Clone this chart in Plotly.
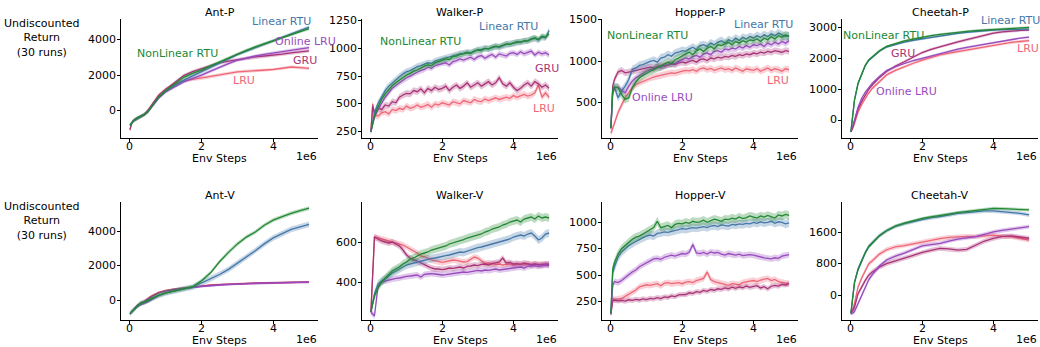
import plotly.graph_objects as go

# ---------------- data (x in units of 1e6 env steps) ----------------
SERIES = ["LRU", "GRU", "Online LRU", "Linear RTU", "NonLinear RTU"]
TITLES = ["Ant-P", "Walker-P", "Hopper-P", "Cheetah-P", "Ant-V", "Walker-V", "Hopper-V", "Cheetah-V"]
X_TICKS = [0, 2, 4]

# coarse grid for smooth panels
XS = [0, 0.05, 0.1, 0.2, 0.3, 0.4, 0.5, 0.6, 0.8, 1.0, 1.25, 1.5, 1.75, 2.0, 2.25, 2.5,
      2.75, 3.0, 3.25, 3.5, 3.75, 4.0, 4.25, 4.5, 4.75, 5.0]
# fine grid for noisy panels
XN = [0, 0.05, 0.1, 0.2, 0.3, 0.4, 0.5, 0.6, 0.7, 0.8, 0.9, 1.0,
      1.1, 1.2, 1.3, 1.4, 1.5, 1.6, 1.7, 1.8, 1.9, 2.0,
      2.1, 2.2, 2.3, 2.4, 2.5, 2.6, 2.7, 2.8, 2.9, 3.0,
      3.1, 3.2, 3.3, 3.4, 3.5, 3.6, 3.7, 3.8, 3.9, 4.0,
      4.1, 4.2, 4.3, 4.4, 4.5, 4.6, 4.7, 4.8, 4.9, 5.0]

# Ant-P
ANTP_LRU = [-1100, -680, -540, -410, -320, -200, 20, 330, 880, 1220, 1480, 1680, 1760, 1820, 1910, 2000, 2100, 2190, 2220, 2250, 2290, 2320, 2390, 2460, 2430, 2380]
ANTP_GRU = [-1050, -700, -560, -410, -320, -200, 0, 300, 850, 1200, 1600, 1980, 2200, 2370, 2540, 2690, 2790, 2880, 2960, 3030, 3080, 3120, 3180, 3250, 3310, 3370]
ANTP_ONLINE = [-830, -720, -580, -440, -340, -240, -80, 190, 700, 1060, 1350, 1620, 1820, 2000, 2230, 2460, 2650, 2840, 2970, 3080, 3170, 3250, 3320, 3400, 3480, 3550]
ANTP_LIN = [-820, -700, -560, -420, -330, -220, -50, 230, 760, 1120, 1430, 1720, 1960, 2190, 2420, 2660, 2910, 3160, 3370, 3570, 3750, 3930, 4130, 4330, 4520, 4710]
ANTP_NONLIN = [-820, -700, -560, -420, -330, -220, -50, 230, 760, 1120, 1480, 1880, 2100, 2280, 2520, 2750, 2980, 3210, 3400, 3590, 3760, 3930, 4120, 4300, 4460, 4620]
ANTP_BAND = [90, 90, 90, 90, 90]

# Walker-P
WALKP_LRU = [250, 500,
             400, 390, 420, 430, 410, 450, 440, 460, 450, 480,
             460, 470, 490, 470, 480, 495, 470, 500, 490, 510,
             500, 490, 520, 510, 500, 530, 520, 510, 540, 525,
             520, 545, 530, 540, 555, 540, 550, 560, 550, 575,
             560, 570, 585, 570, 580, 600, 670, 560, 600, 560]
WALKP_GRU = [250, 480,
             420, 460, 450, 490, 480, 520, 510, 560, 580, 595,
             590, 620, 610, 635, 600, 640, 620, 650, 630, 640,
             660, 620, 650, 670, 640, 660, 690, 650, 670, 690,
             660, 680, 700, 670, 690, 735, 680, 660, 690, 650,
             620, 640, 670, 690, 660, 700, 680, 650, 670, 640]
WALKP_ONLINE = [250, 320,
                380, 450, 510, 560, 600, 640, 665, 690, 715, 735,
                750, 770, 785, 800, 810, 830, 820, 845, 855, 865,
                870, 850, 880, 890, 905, 895, 910, 920, 900, 925,
                935, 910, 930, 945, 920, 950, 940, 930, 955, 960,
                945, 970, 950, 960, 975, 940, 965, 950, 960, 940]
WALKP_LIN = [250, 350,
             420, 505, 570, 620, 660, 690, 720, 745, 770, 790,
             800, 820, 835, 845, 860, 870, 865, 885, 895, 905,
             910, 920, 930, 940, 950, 955, 965, 960, 975, 985,
             990, 1000, 995, 1005, 1015, 1010, 1025, 1035, 1040, 1045,
             1050, 1060, 1065, 1070, 1080, 1090, 1075, 1100, 1095, 1160]
WALKP_NONLIN = [250, 330,
                390, 470, 540, 590, 630, 665, 690, 715, 740, 760,
                775, 795, 805, 825, 840, 850, 845, 870, 880, 890,
                905, 900, 925, 930, 945, 950, 960, 955, 975, 985,
                980, 1000, 995, 1010, 1020, 1015, 1030, 1040, 1035, 1050,
                1060, 1055, 1070, 1065, 1085, 1095, 1080, 1110, 1100, 1130]
WALKP_BAND = [30, 30, 25, 30, 25]

# Hopper-P
HOPP_LRU = [130, 180,
            250, 380, 470, 560, 620, 680, 720, 740, 760, 780,
            800, 810, 820, 830, 840, 850, 860, 855, 870, 880,
            890, 885, 900, 880, 910, 920, 900, 915, 890, 905,
            920, 900, 910, 890, 920, 900, 880, 910, 900, 890,
            910, 880, 900, 920, 890, 910, 900, 880, 910, 900]
HOPP_GRU = [190, 700,
            780, 870, 890, 860, 870, 880, 890, 900, 910, 920,
            930, 920, 940, 950, 940, 960, 970, 960, 980, 990,
            980, 1000, 1010, 990, 1020, 1030, 1010, 1040, 1030, 1050,
            1040, 1060, 1050, 1070, 1060, 1080, 1070, 1090, 1080, 1100,
            1090, 1110, 1100, 1120, 1110, 1130, 1120, 1110, 1130, 1120]
HOPP_ONLINE = [190, 600,
               680, 690, 650, 620, 700, 760, 800, 830, 860, 880,
               900, 910, 930, 920, 950, 960, 980, 970, 1000, 1020,
               1040, 1030, 1060, 1070, 1050, 1090, 1100, 1080, 1120, 1130,
               1110, 1150, 1140, 1160, 1150, 1180, 1160, 1190, 1170, 1200,
               1190, 1210, 1180, 1220, 1200, 1230, 1210, 1240, 1220, 1250]
HOPP_LIN = [190, 650,
            690, 560, 640, 700, 780, 900, 920, 950, 960, 980,
            1000, 1010, 990, 1040, 1050, 1080, 1060, 1100, 1110, 1130,
            1120, 1150, 1170, 1140, 1190, 1200, 1180, 1220, 1200, 1230,
            1250, 1220, 1260, 1240, 1280, 1250, 1290, 1270, 1300, 1280,
            1310, 1290, 1320, 1300, 1330, 1310, 1340, 1320, 1300, 1310]
HOPP_NONLIN = [190, 640,
               690, 680, 600, 540, 560, 680, 750, 800, 830, 860,
               880, 900, 920, 940, 960, 990, 970, 1020, 1040, 1070,
               1090, 1110, 1080, 1130, 1150, 1120, 1160, 1180, 1150, 1200,
               1190, 1210, 1230, 1200, 1240, 1220, 1250, 1230, 1260, 1250,
               1270, 1240, 1280, 1260, 1300, 1270, 1310, 1290, 1320, 1300]
HOPP_BAND = [40, 40, 40, 50, 50]

# Cheetah-P
CHEP_LRU = [-380, -280, -120, 250, 500, 700, 880, 1030, 1260, 1470, 1620, 1740, 1850, 1950, 2040, 2120, 2180, 2230, 2290, 2340, 2390, 2440, 2490, 2530, 2560, 2590]
CHEP_GRU = [-380, -250, -50, 350, 600, 800, 1000, 1140, 1380, 1580, 1760, 1900, 2060, 2200, 2300, 2390, 2470, 2550, 2620, 2690, 2760, 2830, 2870, 2900, 2920, 2935]
CHEP_ONLINE = [-380, -220, 0, 420, 700, 900, 1070, 1200, 1420, 1610, 1740, 1850, 1940, 2010, 2090, 2170, 2240, 2310, 2370, 2420, 2480, 2530, 2580, 2630, 2670, 2700]
CHEP_LIN = [-380, 250, 650, 1180, 1480, 1760, 1940, 2030, 2240, 2380, 2470, 2540, 2600, 2650, 2700, 2750, 2790, 2825, 2860, 2890, 2915, 2935, 2945, 2955, 2960, 2960]
CHEP_NONLIN = [-380, 250, 650, 1200, 1500, 1780, 1960, 2050, 2260, 2400, 2500, 2580, 2640, 2700, 2750, 2790, 2830, 2860, 2890, 2915, 2935, 2960, 2975, 2990, 3005, 3020]
CHEP_BAND = [50, 45, 35, 40, 40]

# Ant-V
ANTV_LRU = [-800, -680, -550, -320, -170, -80, 100, 250, 450, 560, 650, 710, 770, 840, 880, 910, 940, 960, 980, 995, 1005, 1015, 1025, 1035, 1040, 1060]
ANTV_GRU = [-800, -680, -560, -330, -180, -100, 50, 200, 420, 540, 630, 700, 760, 830, 870, 900, 930, 960, 975, 990, 1000, 1010, 1020, 1030, 1040, 1050]
ANTV_ONLINE = [-800, -700, -600, -400, -280, -220, -120, 20, 250, 420, 560, 660, 740, 800, 850, 880, 910, 940, 960, 980, 995, 1010, 1020, 1030, 1040, 1050]
ANTV_LIN = [-800, -700, -580, -350, -200, -130, -50, 80, 280, 420, 560, 660, 760, 1000, 1250, 1500, 1800, 2150, 2500, 2900, 3300, 3650, 3900, 4150, 4300, 4450]
ANTV_NONLIN = [-800, -700, -580, -350, -200, -130, -50, 80, 280, 420, 560, 660, 780, 1130, 1600, 2250, 2800, 3300, 3700, 4000, 4400, 4700, 4900, 5100, 5250, 5400]
ANTV_BAND = [60, 60, 60, 170, 120]

# Walker-V
WALKV_LRU = [250, 450,
             625, 620, 615, 610, 605, 600, 595, 590, 585, 575,
             565, 555, 545, 530, 525, 520, 510, 505, 500, 498,
             502, 505, 510, 508, 505, 500, 502, 515, 525, 520,
             505, 492, 495, 490, 488, 490, 485, 488, 490, 485,
             488, 490, 485, 492, 488, 490, 485, 490, 488, 490]
WALKV_GRU = [250, 450,
             625, 615, 605, 600, 595, 600, 590, 580, 560, 535,
             520, 510, 505, 495, 485, 478, 470, 465, 465, 462,
             465, 470, 468, 472, 475, 470, 478, 480, 485, 482,
             488, 490, 485, 492, 495, 500, 520, 495, 498, 490,
             492, 488, 495, 490, 485, 490, 488, 485, 490, 488]
WALKV_ONLINE = [250, 240,
                230, 380, 400, 405, 410, 415, 418, 420, 425, 428,
                430, 432, 435, 425, 438, 440, 442, 440, 438, 435,
                437, 440, 442, 445, 448, 450, 448, 452, 455, 458,
                455, 460, 458, 462, 465, 460, 463, 465, 468, 470,
                472, 475, 470, 478, 480, 482, 478, 480, 485, 482]
WALKV_LIN = [250, 290,
             340, 390, 405, 415, 430, 445, 455, 465, 475, 485,
             490, 495, 500, 505, 510, 515, 518, 520, 525, 528,
             532, 535, 540, 545, 550, 548, 555, 560, 565, 572,
             575, 580, 585, 590, 595, 600, 605, 610, 615, 625,
             630, 635, 630, 640, 645, 630, 610, 620, 640, 645]
WALKV_NONLIN = [250, 300,
                330, 370, 400, 420, 440, 455, 465, 475, 490, 500,
                515, 520, 530, 540, 545, 550, 560, 565, 570, 575,
                580, 590, 595, 600, 608, 612, 620, 625, 630, 635,
                640, 650, 655, 665, 670, 675, 685, 690, 700, 705,
                710, 700, 715, 720, 725, 715, 730, 720, 725, 720]
WALKV_BAND = [15, 15, 15, 20, 20]

# Hopper-V
HOPV_LRU = [140, 280,
            270, 275, 280, 300, 320, 340, 360, 390, 400, 410,
            405, 415, 420, 400, 425, 430, 420, 425, 430, 420,
            435, 440, 430, 450, 460, 470, 530, 460, 440, 430,
            420, 410, 405, 420, 415, 410, 430, 440, 445, 450,
            440, 455, 460, 470, 450, 460, 440, 430, 425, 420]
HOPV_GRU = [130, 260,
            265, 258, 262, 255, 268, 262, 272, 266, 276, 270,
            282, 276, 288, 280, 295, 290, 305, 298, 315, 320,
            318, 334, 328, 345, 338, 356, 348, 365, 358, 372,
            366, 380, 372, 388, 376, 390, 382, 398, 386, 394,
            402, 380, 392, 372, 396, 404, 398, 414, 408, 420]
HOPV_ONLINE = [130, 400,
               440, 430, 450, 480, 505, 530, 550, 580, 600, 620,
               640, 655, 660, 650, 670, 680, 690, 680, 695, 705,
               700, 720, 790, 710, 705, 715, 700, 720, 710, 715,
               700, 690, 705, 695, 690, 700, 685, 690, 695, 690,
               680, 670, 665, 660, 655, 665, 660, 680, 690, 695]
HOPV_LIN = [140, 520,
            580, 670, 720, 750, 780, 800, 820, 840, 855, 870,
            880, 870, 895, 900, 910, 905, 915, 920, 930, 940,
            935, 945, 950, 945, 955, 960, 950, 965, 970, 960,
            975, 970, 965, 980, 975, 985, 980, 990, 985, 1000,
            990, 1005, 995, 1000, 1010, 990, 1005, 1000, 985, 995]
HOPV_NONLIN = [140, 560,
               620, 700, 750, 780, 810, 840, 860, 870, 890, 910,
               930, 950, 1010, 950, 960, 970, 950, 980, 990, 985,
               1000, 990, 1010, 1000, 1005, 1020, 1000, 1015, 1030, 1020,
               1010, 1030, 1025, 1040, 1030, 1050, 1035, 1045, 1060, 1050,
               1040, 1060, 1050, 1065, 1055, 1040, 1070, 1060, 1075, 1065]
HOPV_BAND = [30, 25, 30, 40, 40]

# Cheetah-V
CHEV_LRU = [-446, -350, -200, 220, 440, 640, 800, 880, 1050, 1160, 1230, 1265, 1310, 1360, 1400, 1440, 1470, 1490, 1500, 1490, 1510, 1530, 1500, 1490, 1450, 1400]
CHEV_GRU = [-446, -380, -300, 50, 230, 380, 520, 600, 720, 810, 880, 945, 1020, 1095, 1150, 1195, 1180, 1150, 1170, 1280, 1380, 1450, 1500, 1510, 1480, 1450]
CHEV_ONLINE = [-446, -440, -400, -200, 0, 190, 400, 530, 750, 900, 1000, 1075, 1170, 1260, 1290, 1320, 1380, 1430, 1460, 1490, 1550, 1610, 1650, 1685, 1715, 1745]
CHEV_LIN = [-446, -80, 340, 680, 900, 1090, 1250, 1340, 1520, 1640, 1750, 1820, 1870, 1930, 1970, 2000, 2040, 2080, 2100, 2120, 2140, 2140, 2120, 2105, 2080, 2040]
CHEV_NONLIN = [-446, -100, 320, 650, 880, 1070, 1230, 1320, 1510, 1640, 1760, 1830, 1890, 1950, 1990, 2020, 2060, 2100, 2125, 2150, 2180, 2205, 2200, 2190, 2180, 2165]
CHEV_BAND = [60, 60, 50, 50, 40]

Y_TICKS = [[0, 2000, 4000], [250, 500, 750, 1000, 1250], [500, 1000, 1500], [0, 1000, 2000, 3000],
           [0, 2000, 4000], [400, 600], [250, 500, 750, 1000], [0, 800, 1600]]

# ---------------- assemble ----------------
panels = [
    (XS, [ANTP_LRU, ANTP_GRU, ANTP_ONLINE, ANTP_LIN, ANTP_NONLIN], ANTP_BAND),
    (XN, [WALKP_LRU, WALKP_GRU, WALKP_ONLINE, WALKP_LIN, WALKP_NONLIN], WALKP_BAND),
    (XN, [HOPP_LRU, HOPP_GRU, HOPP_ONLINE, HOPP_LIN, HOPP_NONLIN], HOPP_BAND),
    (XS, [CHEP_LRU, CHEP_GRU, CHEP_ONLINE, CHEP_LIN, CHEP_NONLIN], CHEP_BAND),
    (XS, [ANTV_LRU, ANTV_GRU, ANTV_ONLINE, ANTV_LIN, ANTV_NONLIN], ANTV_BAND),
    (XN, [WALKV_LRU, WALKV_GRU, WALKV_ONLINE, WALKV_LIN, WALKV_NONLIN], WALKV_BAND),
    (XN, [HOPV_LRU, HOPV_GRU, HOPV_ONLINE, HOPV_LIN, HOPV_NONLIN], HOPV_BAND),
    (XS, [CHEV_LRU, CHEV_GRU, CHEV_ONLINE, CHEV_LIN, CHEV_NONLIN], CHEV_BAND),
]

COLORS = {"LRU": (238, 102, 119), "GRU": (170, 51, 119), "Online LRU": (153, 75, 190),
          "Linear RTU": (68, 119, 170), "NonLinear RTU": (34, 136, 51)}

W, H = 1040, 347
COL_PX = [(121, 318), (362, 558), (602, 798), (842, 1038)]
ROW_PX = [(19, 138), (202, 320)]
Y_RANGES = [[-1537, 5163], [193, 1264], [72, 1512], [-587, 3293],
            [-1176, 5763], [210, 800], [77, 1192], [-615, 2366]]

FONT = "DejaVu Sans"
fig = go.Figure()
layout = dict(width=W, height=H, margin=dict(l=0, r=0, t=0, b=0),
              paper_bgcolor="white", plot_bgcolor="white", showlegend=False,
              font=dict(family=FONT, size=11, color="black"))
annotations = []


def ann(text, x, y, xref="paper", yref="paper", xanchor="center", color="black"):
    annotations.append(dict(text=text, x=x, y=y, xref=xref, yref=yref, showarrow=False,
                            xanchor=xanchor, yanchor="middle", borderpad=0,
                            font=dict(family=FONT, size=11, color=color)))


for i, (xv, ys, bands) in enumerate(panels):
    r, c = divmod(i, 4)
    n = i + 1
    xa, ya = ("x" if n == 1 else f"x{n}"), ("y" if n == 1 else f"y{n}")
    for name, yv, hw in zip(SERIES, ys, bands):
        rgb = COLORS[name]
        up = [v + hw for v in yv]
        lo = [v - hw for v in yv]
        fig.add_trace(go.Scatter(x=list(xv) + list(xv)[::-1], y=up + lo[::-1], fill="toself",
                                 fillcolor=f"rgba({rgb[0]},{rgb[1]},{rgb[2]},0.3)",
                                 line=dict(width=0), hoverinfo="skip", xaxis=xa, yaxis=ya))
        fig.add_trace(go.Scatter(x=xv, y=yv, mode="lines",
                                 line=dict(color=f"rgb({rgb[0]},{rgb[1]},{rgb[2]})", width=1.3),
                                 name=name, xaxis=xa, yaxis=ya))
    x0, x1 = COL_PX[c]
    y0, y1 = ROW_PX[r]
    ax = dict(showline=True, linecolor="black", linewidth=1, ticks="outside", ticklen=3,
              tickwidth=1, tickcolor="black", showgrid=False, zeroline=False,
              showticklabels=False)
    layout["xaxis" if n == 1 else f"xaxis{n}"] = dict(
        ax, domain=[x0 / W, x1 / W], range=[-0.25, 5.25], tickvals=X_TICKS, anchor=ya)
    layout["yaxis" if n == 1 else f"yaxis{n}"] = dict(
        ax, domain=[1 - y1 / H, 1 - y0 / H], range=Y_RANGES[i], tickvals=Y_TICKS[i], anchor=xa)
    # tick labels
    for t in X_TICKS:
        ann(str(t), t, 1 - (y1 + 8) / H, xref=xa)
    for t in Y_TICKS[i]:
        ann(str(t), (x0 - 4) / W, t, yref=ya, xanchor="right")
    # title, x label and offset text
    ann(TITLES[i], (x0 + x1) / 2 / W, 1 - (y0 - 7) / H)
    ann("Env Steps", (x0 + x1) / 2 / W, 1 - (y1 + 20) / H)
    ann("1e6", x1 / W, 1 - (y1 + 19) / H, xanchor="right")

for r in range(2):
    ann("Undiscounted<br>Return<br>(30 runs)", 42 / W, 1 - (ROW_PX[r][0] + 19) / H)

# in-plot series labels (data coordinates)
LABELS = [
    (1, "Linear RTU", 4.22, 4994), (1, "NonLinear RTU", 1.33, 3248), (1, "Online LRU", 4.89, 3924),
    (1, "GRU", 4.89, 2854), (1, "LRU", 3.17, 1728),
    (2, "Linear RTU", 3.85, 1195), (2, "NonLinear RTU", 1.38, 1060), (2, "Online LRU", 5.53, 1021),
    (2, "GRU", 4.94, 814), (2, "LRU", 4.86, 454),
    (3, "Linear RTU", 4.28, 1440), (3, "NonLinear RTU", 1.04, 1308), (3, "Online LRU", 1.46, 567),
    (3, "GRU", 5.37, 1104), (3, "LRU", 4.70, 768),
    (4, "Linear RTU", 4.47, 3260), (4, "NonLinear RTU", 0.92, 2771), (4, "GRU", 1.47, 2184),
    (4, "Online LRU", 1.56, 913), (4, "LRU", 4.97, 2315),
]
for n, name, lx, ly in LABELS:
    rgb = COLORS[name]
    ann(name, lx, ly, xref="x" if n == 1 else f"x{n}", yref="y" if n == 1 else f"y{n}",
        color=f"rgb({rgb[0]},{rgb[1]},{rgb[2]})")

layout["annotations"] = annotations
fig.update_layout(**layout)
fig.write_html("out.html", config={"displayModeBar": False})

# remove the browser's default page margin so the figure sits at the window origin
with open("out.html", "r", encoding="utf-8") as f:
    page = f.read()
page = page.replace("<head>", "<head><style>html,body{margin:0;padding:0;overflow:hidden;}</style>", 1)
with open("out.html", "w", encoding="utf-8") as f:
    f.write(page)
